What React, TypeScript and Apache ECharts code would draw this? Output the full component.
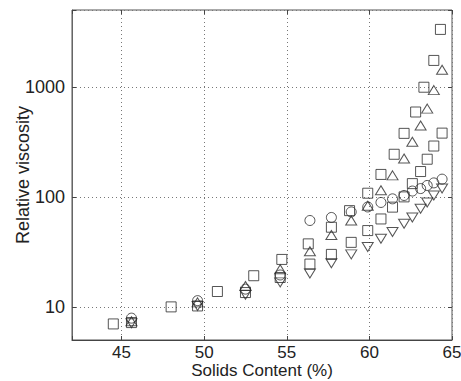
import React, { useEffect, useRef } from "react";
import * as echarts from "echarts";

// Common solids contents (%) used by most series
const xCommon = [45.6, 49.6, 52.5, 54.6, 56.4, 57.7, 58.9, 59.9, 60.7, 61.4, 62.1, 62.6, 63.1, 63.5, 63.9, 64.4];

// Steep square series
const xSquaresSteep = [44.5, 48.0, 50.8, 53.0, 54.7, 56.3, 57.7, 58.8, 59.9, 60.7, 61.5, 62.1, 62.8, 63.3, 63.9, 64.3];
const ySquaresSteep = [7.0, 10, 13.8, 19.2, 27, 37.4, 53, 75, 108, 160, 244, 378, 591, 993, 1740, 3330];

// Moderate square series
const ySquaresModerate = [7.2, 10.2, 13.5, 18.5, 24.5, 30, 38.6, 49.4, 63, 80.7, 100, 132, 170, 220, 290, 380];

// Triangle-up series
const yTrianglesUp = [7.4, 11, 15.5, 22, 32, 45, 61, 83, 115, 157, 223, 317, 446, 635, 935, 1430];

// Triangle-down series
const yTrianglesDown = [7.1, 10.2, 12.9, 16.7, 20.1, 24.9, 30, 35, 41.6, 48, 57, 65, 78, 89, 103, 119];

// Circle series
const yCircles = [7.9, 11.4, 14.5, 19.5, 61, 65, 73, 81, 89, 96, 103, 113, 119, 127, 134, 145];

const xMin = 42;
const xMax = 65;
const yMin = 5;
const yMax = 5000;

const zip = (xs: number[], ys: number[]) => xs.map((x, i) => [x, ys[i]]);

export default function App() {
  const ref = useRef<HTMLDivElement>(null);
  useEffect(() => {
    if (!ref.current) return;
    const chart = echarts.init(ref.current, undefined, { renderer: "svg" });
    const font = "'Liberation Sans', Arial, Helvetica, sans-serif";
    const stroke = "#2a2a2a";
    const markerStyle = { color: "rgba(0,0,0,0)", borderColor: stroke, borderWidth: 1 };
    const isPow10 = (v: number) => {
      const l = Math.log10(v);
      return Math.abs(l - Math.round(l)) < 1e-6;
    };
    const gridLine = { show: true, lineStyle: { color: "#777", type: [1, 3] as any, width: 1 } };
    chart.setOption({
      animation: false,
      backgroundColor: "#fff",
      grid: {
        left: 72,
        top: 10,
        width: 380,
        height: 330,
        containLabel: false,
        outerBoundsMode: "none",
        show: true,
        borderColor: "#555",
        borderWidth: 1,
        backgroundColor: "transparent",
      },
      xAxis: [
        {
          type: "value",
          min: xMin,
          max: xMax,
          name: "Solids Content (%)",
          nameLocation: "middle",
          nameGap: 22,
          nameMoveOverlap: false,
          nameTextStyle: { fontFamily: font, fontSize: 17, color: "#222", lineHeight: 16 },
          axisLine: { show: true, lineStyle: { color: "#444" } },
          axisTick: { show: true, inside: true, length: 4, lineStyle: { color: "#444" } },
          axisLabel: {
            fontFamily: font,
            fontSize: 17,
            lineHeight: 16,
            color: "#222",
            margin: 4,
            hideOverlap: false,
            formatter: (v: number) => (Math.round(v) % 5 === 0 && Math.abs(v - Math.round(v)) < 1e-6 ? String(Math.round(v)) : ""),
          },
          splitLine: gridLine,
        },
        {
          type: "value",
          position: "top",
          min: xMin,
          max: xMax,
          axisLine: { show: false },
          axisTick: { show: true, inside: true, length: 4, lineStyle: { color: "#444" } },
          axisLabel: { show: false },
          splitLine: { show: false },
        },
      ],
      yAxis: [
        {
          type: "log",
          logBase: 10,
          min: yMin,
          max: yMax,
          name: "Relative viscosity",
          nameLocation: "middle",
          nameGap: 40,
          nameMoveOverlap: false,
          nameTextStyle: { fontFamily: font, fontSize: 18, color: "#222" },
          axisLine: { show: true, lineStyle: { color: "#666" } },
          axisTick: { show: true, inside: true, length: 4, lineStyle: { color: "#444" } },
          axisLabel: {
            fontFamily: font,
            fontSize: 18,
            color: "#222",
            margin: 7,
            formatter: (v: number) => (isPow10(v) ? String(Math.round(v)) : ""),
          },
          splitLine: gridLine,
          minorTick: { show: false },
        },
        {
          type: "log",
          logBase: 10,
          position: "right",
          min: yMin,
          max: yMax,
          axisLine: { show: false },
          axisTick: { show: true, inside: true, length: 4, lineStyle: { color: "#444" } },
          axisLabel: { show: false },
          splitLine: { show: false },
        },
      ],
      series: [
        {
          type: "scatter",
          name: "squares steep",
          symbol: "rect",
          symbolSize: 10,
          itemStyle: markerStyle,
          data: zip(xSquaresSteep, ySquaresSteep),
        },
        {
          type: "scatter",
          name: "squares moderate",
          symbol: "rect",
          symbolSize: 10,
          itemStyle: markerStyle,
          data: zip(xCommon, ySquaresModerate),
        },
        {
          type: "scatter",
          name: "triangles up",
          symbol: "triangle",
          symbolSize: [11, 9],
          itemStyle: markerStyle,
          data: zip(xCommon, yTrianglesUp),
        },
        {
          type: "scatter",
          name: "triangles down",
          symbol: "triangle",
          symbolRotate: 180,
          symbolSize: [11, 9],
          itemStyle: markerStyle,
          data: zip(xCommon, yTrianglesDown),
        },
        {
          type: "scatter",
          name: "circles",
          symbol: "circle",
          symbolSize: 10,
          itemStyle: markerStyle,
          data: zip(xCommon, yCircles),
        },
      ],
    });
    return () => chart.dispose();
  }, []);
  return <div ref={ref} style={{ width: 461, height: 381, position: "absolute", left: 0, top: 0 }} />;
}
